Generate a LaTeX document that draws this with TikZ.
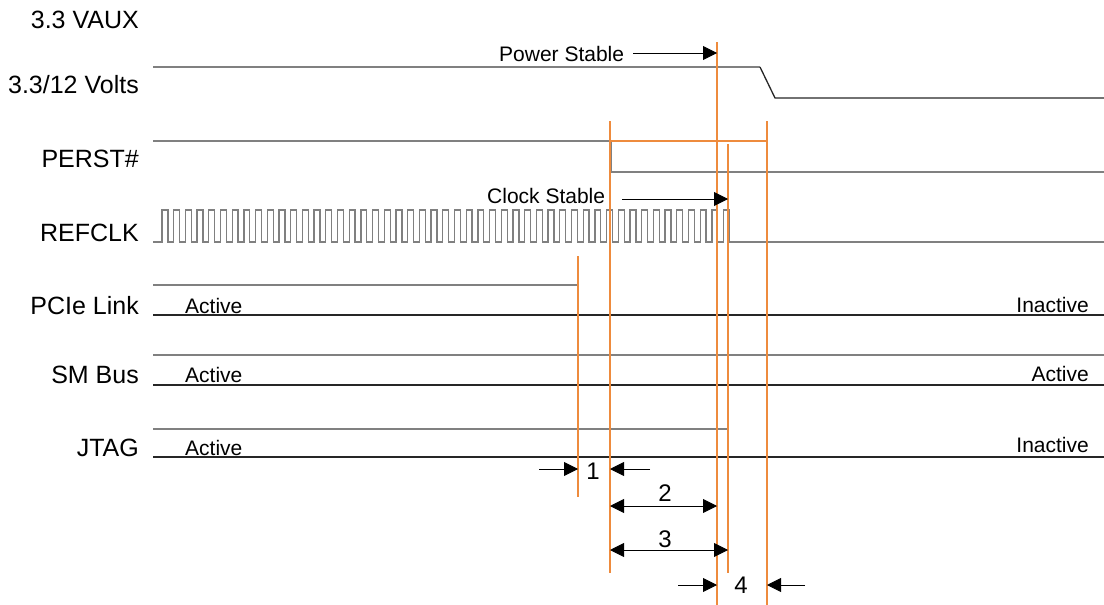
\documentclass[tikz,border=0pt]{standalone}
\usepackage{fontspec}
\setmainfont{Liberation Sans}
\usepackage{tikz}
\usetikzlibrary{arrows.meta}
\definecolor{marker}{HTML}{EE8B3D}

\begin{document}
\begin{tikzpicture}[x=1pt, y=-1pt,
	signame/.style={anchor=base east, inner sep=0pt, font=\fontsize{25}{29}\selectfont},
	state/.style={inner sep=0pt, font=\fontsize{21}{25}\selectfont},
	num/.style={anchor=base, inner sep=0pt, font=\fontsize{24}{28}\selectfont},
	hi/.style={draw=black!50, line width=1.3pt},
	lo/.style={draw=black!85, line width=1.3pt},
	tline/.style={draw=marker, line width=2pt},
	dim/.style={draw=black, line width=0.9pt, -{Triangle[length=14pt, width=14pt]}},
	ddim/.style={draw=black, line width=0.9pt, {Triangle[length=14pt, width=14pt]}-{Triangle[length=14pt, width=14pt]}}]
	\useasboundingbox (0,0) rectangle (1104,605);

	\node[signame] (vaux)  at (139,28)  {3.3 VAUX};
	\node[signame] (volts) at (139,93)  {3.3/12 Volts};
	\node[signame] (perst) at (139,167) {PERST\#};
	\node[signame] (clk)   at (139,241) {REFCLK};
	\node[signame] (pcie)  at (139,314) {PCIe Link};
	\node[signame] (smb)   at (139,383) {SM Bus};
	\node[signame] (jtag)  at (139,456) {JTAG};

	\node[state, anchor=base west] (pcieon) at (185,313) {Active};
	\node[state, anchor=base west] (smbon)  at (185,382) {Active};
	\node[state, anchor=base west] (jtagon) at (185,455) {Active};
	\node[state, anchor=base east] (pcieoff) at (1089,312) {Inactive};
	\node[state, anchor=base east] (smbact)  at (1089,381) {Active};
	\node[state, anchor=base east] (jtagoff) at (1089,452) {Inactive};

	\draw[hi] (153,67) -- (760,67);
	\draw[lo] (760,67) -- (775,98) -- (1104,98);
	\draw[hi] (153,141) -- (611,141) -- (611,172) -- (1104,172);
	\draw[hi] (153,242) -- (162,242)
		\foreach \i in {0,...,48} { -- ++(0,-32) -- ++(5.85,0) -- ++(0,32) -- ++(5.85,0)}
		-- (1104,242);
	\draw[hi] (153,285) -- (578,285);
	\draw[lo] (153,315) -- (1104,315);
	\draw[hi] (153,355) -- (1104,355);
	\draw[lo] (153,385) -- (1104,385);
	\draw[hi] (153,429) -- (728,429);
	\draw[lo] (153,457) -- (1104,457);

	\coordinate (m1) at (578,256);
	\coordinate (m2) at (610,121);
	\coordinate (m3) at (717,42);
	\coordinate (m4) at (728,144);
	\coordinate (m5) at (767,121);
	\draw[tline] (m1) -- (578,497);
	\draw[tline] (m2) -- (610,573);
	\draw[tline] (m3) -- (717,605);
	\draw[tline] (m4) -- (728,573);
	\draw[tline] (m5) -- (767,605);
	\draw[tline] (m2 |- 0,141) -- (m5 |- 0,141);

	\node[state, anchor=base west] (pwr) at (499,61)  {Power Stable};
	\node[state, anchor=base west] (clkst) at (487,203) {Clock Stable};
	\coordinate (pwrs) at (633,53);
	\coordinate (clks) at (622,199);
	\draw[dim] (pwrs) -- (pwrs -| m3);
	\draw[dim] (clks) -- (clks -| m4);

	\coordinate (r1) at (539,469);
	\coordinate (r1b) at (650,469);
	\coordinate (r2) at (0,506);
	\coordinate (r3) at (0,550);
	\coordinate (r4) at (678,585);
	\coordinate (r4b) at (805,585);
	\draw[dim] (r1) -- (r1 -| m1);
	\draw[dim] (r1b) -- (r1b -| m2);
	\draw[ddim] (m2 |- r2) -- (m3 |- r2);
	\draw[ddim] (m2 |- r3) -- (m4 |- r3);
	\draw[dim] (r4) -- (r4 -| m3);
	\draw[dim] (r4b) -- (r4b -| m5);
	\node[num] (n1) at (593,479) {1};
	\node[num] (n2) at (665,501) {2};
	\node[num] (n3) at (665,547) {3};
	\node[num] (n4) at (741,593) {4};
\end{tikzpicture}
\end{document}
